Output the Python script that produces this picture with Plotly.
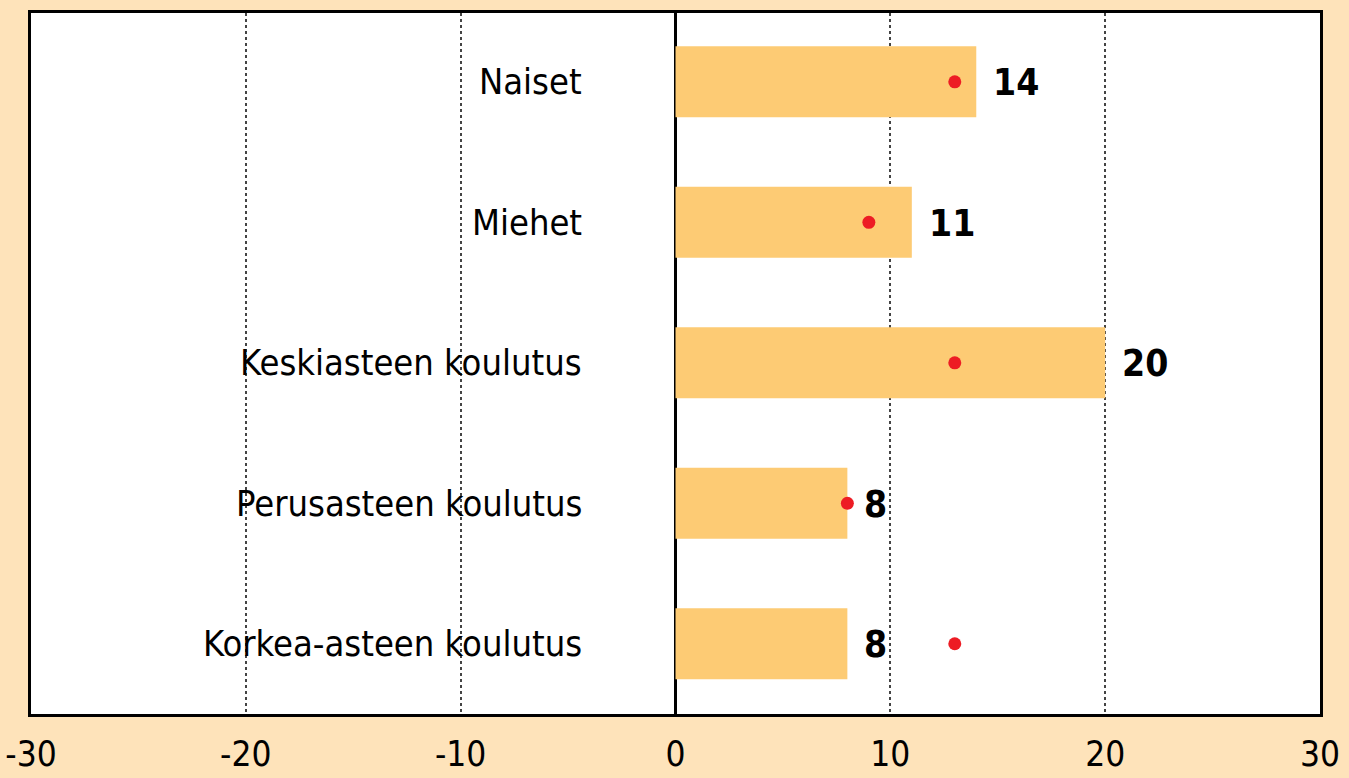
import plotly.graph_objects as go

categories = ["Naiset", "Miehet", "Keskiasteen koulutus", "Perusasteen koulutus", "Korkea-asteen koulutus"]
bar_values = [14, 11, 20, 8, 8]
dot_values = [13, 9, 13, 8, 13]
tick_vals = [-30, -20, -10, 0, 10, 20, 30]
tick_text = ["-30", "-20", "-10", "0", "10", "20", "30"]

FONT = "Liberation Sans Narrow, Arial Narrow, DejaVu Sans Condensed, sans-serif"
BG = "#FEE3BA"
BAR = "#FDCB74"
RED = "#ED1C24"

fig = go.Figure()
fig.add_trace(go.Bar(
    x=bar_values, y=categories, orientation="h",
    marker=dict(color=BAR, line=dict(width=0)),
    width=0.505, hoverinfo="x+y",
))
fig.add_trace(go.Scatter(
    x=dot_values, y=categories, mode="markers",
    marker=dict(color=RED, size=13),
))

for c, v in zip(categories, bar_values):
    fig.add_annotation(x=v, y=c, xref="x", yref="y", text=f"<b>{v}</b>",
                       showarrow=False, xanchor="left", xshift=15, yshift=-1,
                       font=dict(family=FONT, size=37, color="black"))
    fig.add_annotation(x=-4.25, y=c, xref="x", yref="y", text=c,
                       showarrow=False, xanchor="right",
                       font=dict(family=FONT, size=36, color="black"))

fig.update_layout(
    width=1349, height=778,
    paper_bgcolor=BG, plot_bgcolor="white",
    margin=dict(l=31, r=29, t=13, b=64, autoexpand=False),
    showlegend=False,
    bargap=0.5,
    xaxis=dict(
        range=[-30, 30], tickvals=tick_vals, ticktext=tick_text,
        showgrid=True, gridcolor="#444444", griddash="dot", gridwidth=1.5,
        zeroline=True, zerolinecolor="black", zerolinewidth=2.5,
        showline=True, linecolor="black", linewidth=3, mirror=True,
        ticks="", ticklabelstandoff=7, automargin=False,
        tickfont=dict(family=FONT, size=35, color="black"),
        layer="above traces",
    ),
    yaxis=dict(
        type="category", categoryorder="array", categoryarray=categories,
        range=[4.5, -0.49], showticklabels=False, showgrid=False, automargin=False,
        zeroline=False, showline=True, linecolor="black", linewidth=3, mirror=True,
    ),
)

fig.write_html("out.html", config={"displayModeBar": False},
               post_script="document.body.style.margin='0';document.body.style.overflow='hidden';")
